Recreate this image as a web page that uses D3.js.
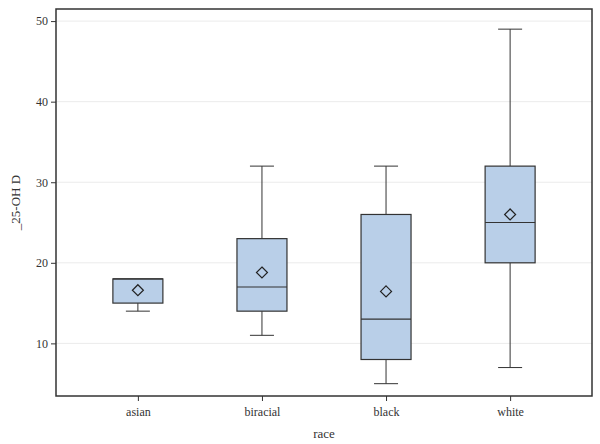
<!DOCTYPE html>
<html>
<head>
<meta charset="utf-8">
<script src="https://cdnjs.cloudflare.com/ajax/libs/d3/7.8.5/d3.min.js"></script>
<style>
  body { margin: 0; background: #fff; }
  text { font-family: "Liberation Serif", "DejaVu Serif", serif; fill: #333; }
</style>
</head>
<body>
<div id="chart"></div>
<script>
// box plot stats per race
const races = ["asian", "biracial", "black", "white"];
const mins = [14, 11, 5, 7];
const q1s = [15, 14, 8, 20];
const medians = [18, 17, 13, 25];
const q3s = [18, 23, 26, 32];
const maxs = [18, 32, 32, 49];
const means = [16.6, 18.8, 16.45, 26];
const yTicks = [10, 20, 30, 40, 50];

const width = 600, height = 444;
const margin = { left: 56, right: 8, top: 9, bottom: 48 };
const plotW = width - margin.left - margin.right;
const plotH = height - margin.top - margin.bottom;

const svg = d3.select("#chart").append("svg")
    .attr("width", width)
    .attr("height", height);

const g = svg.append("g")
    .attr("transform", `translate(${margin.left},${margin.top})`);

const x = d3.scalePoint()
    .domain(races)
    .range([0, plotW])
    .padding(0.66);

const y = d3.scaleLinear()
    .domain([3.47, 51.5])
    .range([plotH, 0]);

// gridlines
g.selectAll("line.grid")
    .data(yTicks)
    .enter()
    .append("line")
    .attr("class", "grid")
    .attr("x1", 0)
    .attr("x2", plotW)
    .attr("y1", d => y(d))
    .attr("y2", d => y(d))
    .style("stroke", "#ebebeb")
    .style("stroke-width", 1);

const boxW = 50, capW = 24;
const stats = races.map((r, i) => ({
    race: r, min: mins[i], q1: q1s[i], med: medians[i], q3: q3s[i], max: maxs[i], mean: means[i]
}));

const boxes = g.selectAll("g.box")
    .data(stats)
    .enter()
    .append("g")
    .attr("class", "box")
    .attr("transform", d => `translate(${x(d.race)},0)`);

// whiskers
boxes.append("line")
    .attr("x1", 0).attr("x2", 0)
    .attr("y1", d => y(d.q3)).attr("y2", d => y(d.max))
    .style("stroke", "#333");
boxes.append("line")
    .attr("x1", 0).attr("x2", 0)
    .attr("y1", d => y(d.q1)).attr("y2", d => y(d.min))
    .style("stroke", "#333");
boxes.filter(d => d.max > d.q3).append("line")
    .attr("x1", -capW / 2).attr("x2", capW / 2)
    .attr("y1", d => y(d.max)).attr("y2", d => y(d.max))
    .style("stroke", "#333");
boxes.filter(d => d.min < d.q1).append("line")
    .attr("x1", -capW / 2).attr("x2", capW / 2)
    .attr("y1", d => y(d.min)).attr("y2", d => y(d.min))
    .style("stroke", "#333");

// box
boxes.append("rect")
    .attr("x", -boxW / 2)
    .attr("width", boxW)
    .attr("y", d => y(d.q3))
    .attr("height", d => y(d.q1) - y(d.q3))
    .style("fill", "#b9cfe8")
    .style("stroke", "#333")
    .style("stroke-width", 1.2);

// median
boxes.append("line")
    .attr("x1", -boxW / 2).attr("x2", boxW / 2)
    .attr("y1", d => y(d.med)).attr("y2", d => y(d.med))
    .style("stroke", "#333")
    .style("stroke-width", 1.2);

// mean diamond
boxes.append("path")
    .attr("transform", d => `translate(0,${y(d.mean)})`)
    .attr("d", "M0,-5.5L5.5,0L0,5.5L-5.5,0Z")
    .style("fill", "none")
    .style("stroke", "#222")
    .style("stroke-width", 1.2);

// frame
g.append("rect")
    .attr("width", plotW)
    .attr("height", plotH)
    .style("fill", "none")
    .style("stroke", "#333")
    .style("stroke-width", 1.5);

// y axis
const yAxis = g.append("g")
    .call(d3.axisLeft(y).tickValues(yTicks).tickSize(5).tickPadding(3));
yAxis.select(".domain").remove();
yAxis.selectAll("line").style("stroke", "#333");
yAxis.selectAll("text")
    .style("font-size", "12px")
    .style("font-family", "Liberation Serif")
    .style("fill", "#333");

// x axis
const xAxis = g.append("g")
    .attr("transform", `translate(0,${plotH})`)
    .call(d3.axisBottom(x).tickSize(5).tickPadding(6));
xAxis.select(".domain").remove();
xAxis.selectAll("line").style("stroke", "#333");
xAxis.selectAll("text")
    .style("font-size", "12px")
    .style("font-family", "Liberation Serif")
    .style("fill", "#333");

// axis titles
svg.append("text")
    .attr("x", margin.left + plotW / 2)
    .attr("y", 438)
    .attr("text-anchor", "middle")
    .style("font-size", "13px")
    .text("race");

svg.append("text")
    .attr("transform", `translate(20,${margin.top + plotH / 2}) rotate(-90)`)
    .attr("text-anchor", "middle")
    .style("font-size", "13px")
    .text("_25-OH D");
</script>
</body>
</html>
